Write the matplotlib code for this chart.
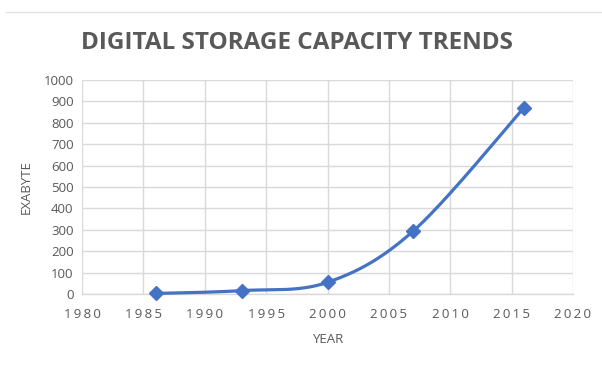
import numpy as np
import matplotlib
matplotlib.use("Agg")
import matplotlib.pyplot as plt
from matplotlib.lines import Line2D

# Global digital storage capacity (exabytes)
years = [1986, 1993, 2000, 2007, 2016]
exabytes = [2.6, 15.8, 54.5, 295, 870]

x_ticks = [1980, 1985, 1990, 1995, 2000, 2005, 2010, 2015, 2020]
y_ticks = [0, 100, 200, 300, 400, 500, 600, 700, 800, 900, 1000]

TEXT = "#595959"
GRID = "#d9d9d9"
BLUE = "#4472C4"


def smooth_curve(xs, ys, n=40):
    """Cubic Bezier smoothing through points (spreadsheet-style smoothed line)."""
    xs = np.asarray(xs, float)
    ys = np.asarray(ys, float)
    px = np.concatenate([[xs[0]], xs, [xs[-1]]])
    py = np.concatenate([[ys[0]], ys, [ys[-1]]])
    out_x, out_y = [], []
    t = np.linspace(0, 1, n)
    for i in range(1, len(px) - 2):
        p0 = np.array([px[i], py[i]])
        p3 = np.array([px[i + 1], py[i + 1]])
        c1 = p0 + (np.array([px[i + 1], py[i + 1]]) - np.array([px[i - 1], py[i - 1]])) / 6
        c2 = p3 - (np.array([px[i + 2], py[i + 2]]) - np.array([px[i], py[i]])) / 6
        b = ((1 - t) ** 3)[:, None] * p0 + (3 * (1 - t) ** 2 * t)[:, None] * c1 \
            + (3 * (1 - t) * t ** 2)[:, None] * c2 + (t ** 3)[:, None] * p3
        out_x.extend(b[:, 0])
        out_y.extend(b[:, 1])
    return np.array(out_x), np.array(out_y)


fig = plt.figure(figsize=(6.02, 3.67), dpi=100)
fig.patch.set_facecolor("white")

# thin separator rule across the top
fig.add_artist(Line2D([6 / 602, 1.0], [1 - 12 / 367, 1 - 12 / 367],
                      color="#e3e3e3", lw=1.0, transform=fig.transFigure))

ax = fig.add_axes([82 / 602, 1 - 294 / 367, (573 - 82) / 602, (294 - 80) / 367])
ax.set_xlim(1980, 2020)
ax.set_ylim(0, 1000)
ax.set_xticks(x_ticks)
ax.set_yticks(y_ticks)
ax.set_xticklabels(["\u2009".join(str(v)) for v in x_ticks], fontsize=9.5,
                   color=TEXT, family=["Open Sans", "DejaVu Sans"])
ax.set_yticklabels([str(v) for v in y_ticks], fontsize=9.5,
                   color=TEXT, family="Open Sans")
ax.tick_params(axis="y", length=0, pad=6)
ax.tick_params(axis="x", length=0, pad=10)
ax.grid(True, color=GRID, lw=1.0)
ax.set_axisbelow(True)
for s in ["top", "right", "left"]:
    ax.spines[s].set_visible(False)
ax.spines["bottom"].set_color(GRID)
ax.spines["bottom"].set_linewidth(1.0)

sx, sy = smooth_curve(years, exabytes)
ax.plot(sx, sy, color=BLUE, lw=2.3, solid_capstyle="round", clip_on=False, zorder=3)
ax.plot(years, exabytes, linestyle="none", marker="D", markersize=7,
        color=BLUE, clip_on=False, zorder=4)

ax.set_xlabel("YEAR", fontsize=9.5, color=TEXT, family="Open Sans", labelpad=9)
ax.set_ylabel("EXABYTE", fontsize=9.5, color=TEXT, family="Open Sans", labelpad=8)

fig.text(297 / 602, 1 - 43 / 367, "DIGITAL STORAGE CAPACITY TRENDS",
         ha="center", va="center", fontsize=17.5, fontweight="bold",
         color=TEXT, family="Open Sans")

fig.savefig("out.png", dpi=100, facecolor="white")
